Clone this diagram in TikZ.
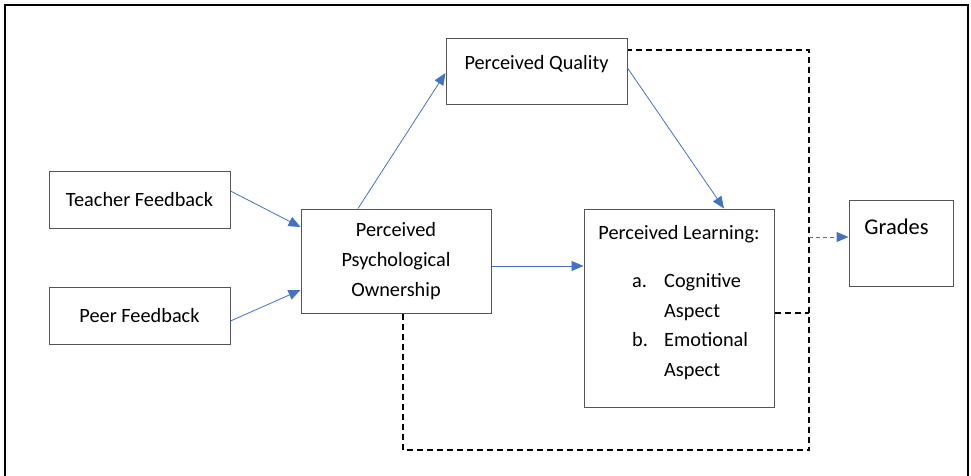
\documentclass[tikz,border=0pt]{standalone}
\usepackage{fontspec}
\setmainfont{Carlito}
\usepackage{tikz}
\usetikzlibrary{arrows.meta, positioning}
\definecolor{arrowblue}{RGB}{68,114,196}
\definecolor{boxgray}{RGB}{85,85,85}

\begin{document}
\begin{tikzpicture}[x=1pt, y=-1pt,
        box/.style={draw=boxgray, line width=1pt, inner sep=0pt, align=center, font=\fontsize{20.3}{30}\selectfont},
        txt/.style={inner sep=0pt, align=left, font=\fontsize{20.3}{29.5}\selectfont},
        link/.style={draw=arrowblue, line width=0.8pt, -{Triangle[length=12pt, width=10pt]}},
        dep/.style={draw=black, line width=1.6pt, dash pattern=on 6pt off 4pt}]
        \clip (0,0) rectangle (971,475);
        \draw[line width=2pt] (5,480) -- (5,5) -- (968,5) -- (968,480);

        % boxes
        \node[box, minimum width=181, minimum height=57] (tf) at (139.5,199.5) {Teacher Feedback};
        \node[box, minimum width=181, minimum height=57] (pf) at (139.5,315.5) {Peer Feedback};
        \node[box, minimum width=190, minimum height=104] (ppo) at (396,261) {Perceived\\Psychological\\Ownership};
        \node[box, minimum width=181, minimum height=66] (pq) at (536.5,71) {};
        \node[box, minimum width=190, minimum height=198] (pl) at (679,308) {};
        \node[box, minimum width=104, minimum height=86] (gr) at (901,243) {};

        \node[txt, anchor=base] (pq-t) at (536.5,69.5) {Perceived Quality};
        \node[txt, anchor=base] (pl-t) at (679,239.5) {Perceived Learning:};
        \node[txt, anchor=base west] (pl-l) at (632,376)
            {\makebox[32pt][l]{a.}Cognitive\\\hspace*{32pt}Aspect\\\makebox[32pt][l]{b.}Emotional\\\hspace*{32pt}Aspect};
        \node[txt, anchor=base, font=\fontsize{22.5}{27}\selectfont] (gr-t) at (896.5,234) {Grades};

        % arrows
        \draw[link] ([yshift=8.5]tf.east) -- ([yshift=34]ppo.west);
        \draw[link] ([yshift=-5.5]pf.east) -- ([yshift=-29]ppo.west);
        \draw[link] ([xshift=-38]ppo.north) -- ([yshift=-2]pq.west);
        \draw[link] ([yshift=3]pq.east) -- ([xshift=45]pl.north);
        \draw[link] ([yshift=-5]ppo.east) -- ([yshift=-5]ppo.east -| pl.west);

        % dashed paths to grades
        \coordinate (br) at (809,450);
        \coordinate (plx) at ([yshift=-5]pl.east);
        \coordinate (grx) at ([yshift=6]gr.west);
        \draw[dep] ([xshift=7]ppo.south) |- (br) |- ([yshift=21]pq.east);
        \draw[dep] (plx) -- (plx -| br);
        \draw[link, line width=1pt, dash pattern=on 4pt off 3pt] (grx -| br) -- (grx);
\end{tikzpicture}
\end{document}
